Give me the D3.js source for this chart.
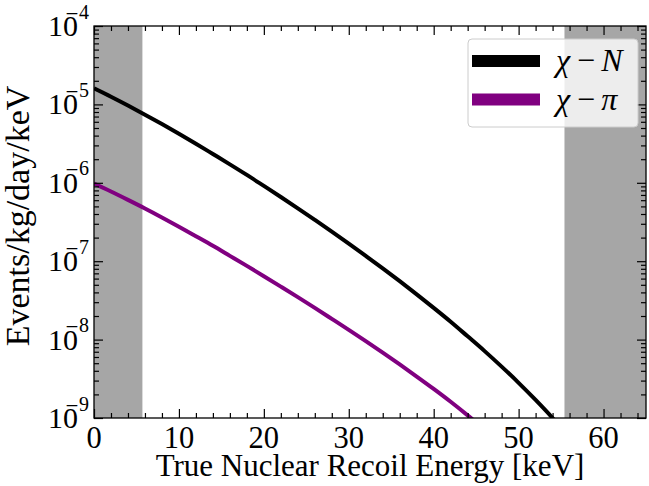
<!DOCTYPE html>
<html>
<head>
<meta charset="utf-8">
<script src="https://cdn.jsdelivr.net/npm/d3@7.9.0/dist/d3.min.js"></script>
<style>
  body { margin: 0; background: #fff; }
  svg { display: block; font-family: 'Liberation Serif', 'DejaVu Serif', serif; }
</style>
</head>
<body>
<svg id="chart" width="649" height="486"></svg>
<script>
// recoil energy grid [keV]
const energies = [0, 2, 4, 6, 8, 10, 12, 14, 16, 18, 20, 22, 24, 26, 28, 30, 32, 34, 36, 38, 40, 42, 44, 46, 48, 50, 52, 54, 56];

// events/kg/day/keV
const rateChiN = [1.60e-5, 1.25e-5, 9.66e-6, 7.40e-6, 5.61e-6, 4.22e-6, 3.15e-6, 2.33e-6, 1.72e-6, 1.26e-6,
  9.12e-7, 6.59e-7, 4.73e-7, 3.37e-7, 2.39e-7, 1.68e-7, 1.17e-7, 8.11e-8, 5.56e-8, 3.78e-8,
  2.54e-8, 1.69e-8, 1.10e-8, 7.13e-9, 4.52e-9, 2.81e-9, 1.70e-9, 1.00e-9, 5.6e-10];
const rateChiPi = [9.77e-7, 7.73e-7, 6.05e-7, 4.70e-7, 3.61e-7, 2.75e-7, 2.08e-7, 1.57e-7, 1.17e-7, 8.71e-8,
  6.44e-8, 4.74e-8, 3.48e-8, 2.54e-8, 1.84e-8, 1.33e-8, 9.55e-9, 6.81e-9, 4.82e-9, 3.38e-9,
  2.35e-9, 1.61e-9, 1.08e-9, 7.1e-10, 4.6e-10, 3.0e-10, 2.0e-10, 1.3e-10, 8.0e-11];

// shaded energy ranges
const bands = [[0, 5.7], [55.4, 65]];

const xTicks = [0, 10, 20, 30, 40, 50, 60];
const yExps = [-9, -8, -7, -6, -5, -4];

const series = [
  { label: 'N', values: rateChiN, color: '#000000' },
  { label: 'π', values: rateChiPi, color: '#800080' }
];

const margin = { top: 26, right: 3, bottom: 68, left: 94 };
const width = 649 - margin.left - margin.right;
const height = 486 - margin.top - margin.bottom;

const svg = d3.select('#chart');
const g = svg.append('g').attr('transform', `translate(${margin.left},${margin.top})`);

const x = d3.scaleLinear().domain([0, 65]).range([0, width]);
const y = d3.scaleLog().domain([1e-9, 1e-4]).range([height, 0]);

g.append('clipPath').attr('id', 'clip')
  .append('rect').attr('width', width).attr('height', height);

const plot = g.append('g').attr('clip-path', 'url(#clip)');

plot.selectAll('rect.band')
  .data(bands)
  .join('rect')
  .attr('class', 'band')
  .attr('x', (d) => x(d[0]))
  .attr('width', (d) => x(d[1]) - x(d[0]))
  .attr('y', 0)
  .attr('height', height)
  .attr('fill', '#a6a6a6');

const line = d3.line()
  .x((d, i) => x(energies[i]))
  .y((d) => y(d))
  .curve(d3.curveMonotoneX);

series.forEach((s) => {
  plot.append('path')
    .attr('d', line(s.values))
    .attr('fill', 'none')
    .attr('stroke', s.color)
    .attr('stroke-width', 4);
});

// ticks, all pointing inward
const xMinor = d3.range(0, 66, 2).filter((v) => v % 10 !== 0);
const yMinor = [];
yExps.slice(0, -1).forEach((e) => {
  for (let k = 2; k < 10; k++) yMinor.push(k * Math.pow(10, e));
});
const yMajor = yExps.map((e) => Math.pow(10, e));

function tickGroup(axis, tx, ty) {
  const a = g.append('g').attr('transform', `translate(${tx},${ty})`).call(axis);
  a.select('.domain').remove();
  a.selectAll('text').remove();
  a.selectAll('line').attr('stroke', '#000').attr('stroke-width', 1.2);
  return a;
}

tickGroup(d3.axisBottom(x).tickValues(xTicks).tickSize(-9), 0, height);
tickGroup(d3.axisBottom(x).tickValues(xMinor).tickSize(-5), 0, height);
tickGroup(d3.axisTop(x).tickValues(xTicks).tickSize(-9), 0, 0);
tickGroup(d3.axisTop(x).tickValues(xMinor).tickSize(-5), 0, 0);
tickGroup(d3.axisLeft(y).tickValues(yMajor).tickSize(-9), 0, 0);
tickGroup(d3.axisLeft(y).tickValues(yMinor).tickSize(-5), 0, 0);
tickGroup(d3.axisRight(y).tickValues(yMajor).tickSize(-9), width, 0);
tickGroup(d3.axisRight(y).tickValues(yMinor).tickSize(-5), width, 0);

g.append('rect')
  .attr('width', width)
  .attr('height', height)
  .attr('fill', 'none')
  .attr('stroke', '#000')
  .attr('stroke-width', 1.3);

// tick labels
g.selectAll('text.xtick')
  .data(xTicks)
  .join('text')
  .attr('class', 'xtick')
  .attr('x', (d) => x(d))
  .attr('y', height + 30)
  .attr('text-anchor', 'middle')
  .attr('font-size', 30.5)
  .text((d) => d);

yExps.forEach((e) => {
  const yy = y(Math.pow(10, e));
  g.append('text')
    .attr('x', -16)
    .attr('y', yy + 10)
    .attr('text-anchor', 'end')
    .attr('font-size', 30)
    .text('10');
  const sup = g.append('text')
    .attr('x', -5)
    .attr('y', yy - 7.5)
    .attr('text-anchor', 'end')
    .attr('font-size', 20);
  sup.append('tspan').attr('font-family', 'DejaVu Serif').attr('font-size', 17).text('\u2212');
  sup.append('tspan').text(Math.abs(e));
});

// axis titles
g.append('text')
  .attr('x', width / 2)
  .attr('y', height + 58)
  .attr('text-anchor', 'middle')
  .attr('font-size', 31)
  .text('True Nuclear Recoil Energy [keV]');

g.append('text')
  .attr('transform', `translate(${-65},${height / 2 - 6}) rotate(-90)`)
  .attr('text-anchor', 'middle')
  .attr('font-size', 34)
  .text('Events/kg/day/keV');

// legend
const legend = svg.append('g').attr('transform', 'translate(468,39)');
legend.append('rect')
  .attr('width', 170)
  .attr('height', 88)
  .attr('rx', 4)
  .attr('fill', 'rgba(255,255,255,0.8)')
  .attr('stroke', '#cccccc')
  .attr('stroke-width', 1);

series.forEach((s, i) => {
  const ly = 22 + i * 38.5;
  legend.append('line')
    .attr('x1', 4).attr('x2', 72)
    .attr('y1', ly).attr('y2', ly)
    .attr('stroke', s.color)
    .attr('stroke-width', 12);
  const t = legend.append('text')
    .attr('x', 88)
    .attr('y', ly + 10)
    .attr('font-size', 32);
  t.append('tspan').attr('font-style', 'italic').text('χ');
  t.append('tspan').attr('dx', 7).text('\u2212');
  t.append('tspan').attr('dx', 6).attr('font-style', 'italic').text(s.label);
});
</script>
</body>
</html>
